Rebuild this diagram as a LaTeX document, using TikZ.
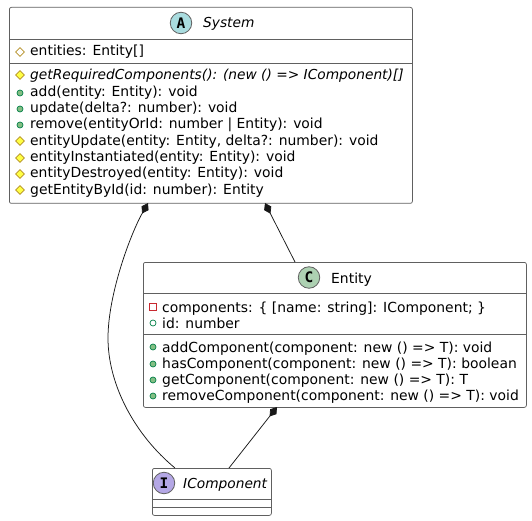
\documentclass[tikz,border=0pt]{standalone}
\usepackage{fontspec}
\setmainfont{DejaVu Sans}
\newfontfamily\monob{DejaVu Sans Mono}
\usetikzlibrary{arrows.meta,shapes.geometric}
\definecolor{pubfill}{HTML}{84BE84}
\definecolor{publine}{HTML}{038048}
\definecolor{protfill}{HTML}{FFFF44}
\definecolor{protline}{HTML}{B38D22}
\definecolor{privline}{HTML}{C82930}
\definecolor{edge}{HTML}{181818}
\definecolor{border}{HTML}{606060}
\tikzset{
  x=1pt,y=-1pt,
  boxst/.style={draw=border,line width=0.75pt,rounded corners=2pt,inner sep=0pt,anchor=north west},
  sepl/.style={draw=border,line width=0.7pt},
  txt/.style={anchor=base west,inner sep=0pt,font=\fontsize{13.9}{16}\selectfont,text=black},
  itxt/.style={txt,font=\fontsize{13.75}{16}\selectfont\itshape},
  circ/.style={circle,draw=border,line width=0.8pt,minimum size=21.5pt,inner sep=0pt,font=\fontsize{14.5}{16}\selectfont\monob\bfseries},
  comp/.style={draw=edge,line width=0.75pt,-{Diamond[length=12pt,width=8pt,fill=edge]}},
  pubi/.style={circle,draw=publine,fill=pubfill,minimum size=6pt,inner sep=0pt,line width=0.7pt},
  pubo/.style={circle,draw=publine,minimum size=6pt,inner sep=0pt,line width=0.7pt},
  proti/.style={diamond,draw=protline,fill=protfill,minimum size=9pt,inner sep=0pt,line width=0.7pt},
  proto/.style={diamond,draw=protline,minimum size=9pt,inner sep=0pt,line width=0.7pt},
  privo/.style={rectangle,draw=privline,minimum size=6.5pt,inner sep=0pt,line width=0.7pt},
}
\begin{document}
\begin{tikzpicture}
\useasboundingbox (0,0) rectangle (532,521);
% boxes
\node[boxst,minimum width=403pt,minimum height=196pt] (sys) at (9,7) {};
\node[boxst,minimum width=383pt,minimum height=145pt] (ent) at (143,262) {};
\node[boxst,minimum width=119pt,minimum height=47pt] (ico) at (152,468) {};
% separators
\draw[sepl] (9,39) -- (412,39);
\draw[sepl] (9,63) -- (412,63);
\draw[sepl] (143,293) -- (526,293);
\draw[sepl] (143,334.5) -- (526,334.5);
\draw[sepl] (152,499) -- (271,499);
\draw[sepl] (152,507) -- (271,507);
% headers
\node[circ,fill={rgb,255:red,169;green,220;blue,223}] (ca) at (181,23) {A};
\node[itxt] (tsys) at (203,28) {System};
\node[circ,fill={rgb,255:red,173;green,209;blue,178}] (cc) at (309,277.5) {C};
\node[txt] (tent) at (331,283) {Entity};
\node[circ,fill={rgb,255:red,180;green,167;blue,229}] (ci) at (164,483) {I};
\node[itxt] (tico) at (183,488) {IComponent};
% System members
\node[proto] (s1i) at (20,52) {};
\node[txt] (s1) at (30,56) {entities: Entity[]};
\node[proti] (s2i) at (20,75) {};
\node[itxt] (s2) at (30,80) {getRequiredComponents(): (new () => IComponent)[]};
\node[pubi] (s3i) at (20,93) {};
\node[txt] (s3) at (30,97) {add(entity: Entity): void};
\node[pubi] (s4i) at (20,109) {};
\node[txt] (s4) at (30,113) {update(delta?: number): void};
\node[pubi] (s5i) at (20,125) {};
\node[txt] (s5) at (30,129) {remove(entityOrId: number | Entity): void};
\node[proti] (s6i) at (20,141) {};
\node[txt] (s6) at (30,145.5) {entityUpdate(entity: Entity, delta?: number): void};
\node[proti] (s7i) at (20,158) {};
\node[txt] (s7) at (30,162) {entityInstantiated(entity: Entity): void};
\node[proti] (s8i) at (20,174) {};
\node[txt] (s8) at (30,178) {entityDestroyed(entity: Entity): void};
\node[proti] (s9i) at (20,190) {};
\node[txt] (s9) at (30,194.5) {getEntityById(id: number): Entity};
% Entity members
\node[privo] (e1i) at (153,307) {};
\node[txt] (e1) at (162,312) {components: \{ [name: string]: IComponent; \}};
\node[pubo] (e2i) at (153,323) {};
\node[txt] (e2) at (162,328) {id: number};
\node[pubi] (e3i) at (153,347) {};
\node[txt] (e3) at (162,352) {addComponent(component: new () => T): void};
\node[pubi] (e4i) at (153,364) {};
\node[txt] (e4) at (162,368) {hasComponent(component: new () => T): boolean};
\node[pubi] (e5i) at (153,380) {};
\node[txt] (e5) at (162,384) {getComponent(component: new () => T): T};
\node[pubi] (e6i) at (153,396) {};
\node[txt] (e6) at (162,400) {removeComponent(component: new () => T): void};
% connectors
\coordinate (a1) at (148,203);
\coordinate (a2) at (265,203);
\coordinate (a3) at (277,407);
\coordinate (b1) at (175,468);
\coordinate (b2) at (295,262);
\coordinate (b3) at (229,468);
\draw[comp] (b1) .. controls (135,435) and (108,385) .. (108,338) .. controls (108,295) and (130,235) .. (a1);
\draw[comp] (b2) -- (a2);
\draw[comp] (b3) -- (a3);
\end{tikzpicture}
\end{document}
